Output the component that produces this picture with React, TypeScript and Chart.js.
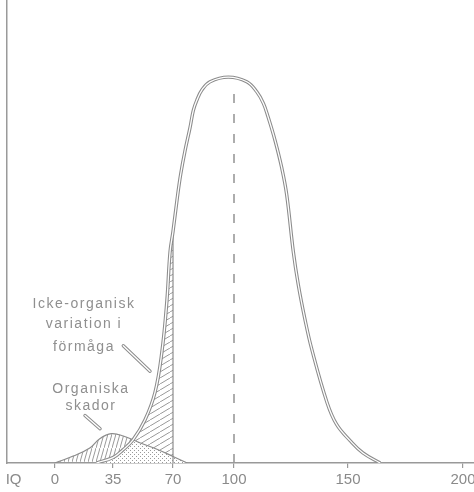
import React, { useEffect, useRef } from "react";
import { Chart, registerables } from "chart.js";

Chart.register(...registerables);

// ---- data ----
const X_TICK_VALUES = [-25, 0, 35, 70, 100, 150, 200];
const X_TICK_LABELS = ["IQ", "0", "35", "70", "100", "150", "200"];

// hand-drawn, non-uniform axis spacing of the original figure
const AXIS_KNOT_IQ = [0, 35, 70, 100, 150, 200];
const AXIS_KNOT_POS = [55, 113, 173, 234, 348, 463];
const AXIS_RANGE = [7, 474];

// main distribution (IQ, relative height)
const MAIN_IQ = [25, 35, 40.8, 46.7, 53.7, 59.5, 63.5, 66.4, 68.3, 70, 72.1, 73.8, 75.9, 78.4, 80.0, 81.7, 84.1, 88.2, 97.2, 105.6, 110.0, 112.9, 115.0, 118.0, 120.9, 123.1, 126.0, 128.2, 131.1, 134.1, 140.8, 145.0, 150.9, 156.5, 164];
const MAIN_H = [0, 0.014, 0.034, 0.06, 0.112, 0.183, 0.287, 0.418, 0.548, 0.6, 0.687, 0.749, 0.809, 0.87, 0.914, 0.94, 0.966, 0.988, 1.0, 0.988, 0.962, 0.932, 0.896, 0.836, 0.766, 0.696, 0.548, 0.462, 0.373, 0.295, 0.157, 0.1, 0.058, 0.026, 0];

// organic damage bump
const BUMP_IQ = [0, 11, 21, 27, 34, 41, 51, 61, 70, 77];
const BUMP_H = [0, 0.018, 0.039, 0.063, 0.076, 0.07, 0.052, 0.035, 0.017, 0];

const HATCH_LIMIT_IQ = 70;
const MEAN_IQ = 100;
const MEAN_LINE_TOP = 0.98;

const NOTE1_LINES = ["Icke-organisk", "variation i", "förmåga"];
const NOTE1_IQ = 17.5;
const NOTE1_H = [0.411, 0.359, 0.301];
const NOTE2_LINES = ["Organiska", "skador"];
const NOTE2_IQ = 21.7;
const NOTE2_H = [0.191, 0.147];
const ARROW1_IQ = [41, 56.6];
const ARROW1_H = [0.304, 0.238];
const ARROW2_IQ = [18.1, 27.2];
const ARROW2_H = [0.123, 0.089];

const GRAY = "#8c8c8c";
const FONT = '"Liberation Sans", Arial, Helvetica, sans-serif';

function warp(iq: number): number {
  const k = AXIS_KNOT_IQ;
  const p = AXIS_KNOT_POS;
  let i = 0;
  while (i < k.length - 2 && iq > k[i + 1]) i++;
  const t = (iq - k[i]) / (k[i + 1] - k[i]);
  return p[i] + t * (p[i + 1] - p[i]);
}

function pts(xs: number[], ys: number[]) {
  return xs.map((v, i) => ({ x: warp(v), y: ys[i] }));
}

function interp(xs: number[], ys: number[], v: number): number {
  if (v <= xs[0]) return ys[0];
  for (let i = 0; i < xs.length - 1; i++) {
    if (v <= xs[i + 1]) {
      const t = (v - xs[i]) / (xs[i + 1] - xs[i]);
      return ys[i] + t * (ys[i + 1] - ys[i]);
    }
  }
  return ys[ys.length - 1];
}

function makePattern(kind: string): CanvasPattern | string {
  const c = document.createElement("canvas");
  const g = c.getContext("2d");
  if (!g) return "rgba(0,0,0,0)";
  if (kind === "diag") {
    const w = 10, h = 6;
    c.width = w; c.height = h;
    g.strokeStyle = "#9a9a9a";
    g.lineWidth = 1;
    for (const [dx, dy] of [[-w, h], [0, 0], [w, -h]]) {
      g.beginPath();
      g.moveTo(dx, h + dy);
      g.lineTo(w + dx, dy);
      g.stroke();
    }
  } else if (kind === "steep") {
    const w = 4, h = 14;
    c.width = w; c.height = h;
    g.strokeStyle = "#9a9a9a";
    g.lineWidth = 1;
    for (const [dx, dy] of [[-w, h], [0, 0], [w, -h]]) {
      g.beginPath();
      g.moveTo(dx, h + dy);
      g.lineTo(w + dx, dy);
      g.stroke();
    }
  } else {
    c.width = 4; c.height = 4;
    g.fillStyle = "#ffffff";
    g.fillRect(0, 0, 4, 4);
    g.fillStyle = "#9a9a9a";
    g.fillRect(0, 0, 1, 1);
    g.fillRect(2, 2, 1, 1);
  }
  return g.createPattern(c, "repeat") || "rgba(0,0,0,0)";
}

const notesPlugin = {
  id: "notes",
  afterDatasetsDraw(chart: any) {
    const { ctx } = chart;
    const x = chart.scales.x;
    const y = chart.scales.y;
    ctx.save();
    const drawArrow = (xs: number[], ys: number[]) => {
      const x0 = x.getPixelForValue(warp(xs[0]));
      const y0 = y.getPixelForValue(ys[0]);
      const x1 = x.getPixelForValue(warp(xs[1]));
      const y1 = y.getPixelForValue(ys[1]);
      ctx.lineCap = "round";
      ctx.strokeStyle = GRAY;
      ctx.lineWidth = 3.4;
      ctx.beginPath(); ctx.moveTo(x0, y0); ctx.lineTo(x1, y1); ctx.stroke();
      ctx.strokeStyle = "#ffffff";
      ctx.lineWidth = 1.4;
      ctx.beginPath(); ctx.moveTo(x0, y0); ctx.lineTo(x1, y1); ctx.stroke();
    };
    drawArrow(ARROW1_IQ, ARROW1_H);
    drawArrow(ARROW2_IQ, ARROW2_H);
    ctx.font = "14px " + FONT;
    try { (ctx as any).letterSpacing = "1.5px"; } catch (e) {}
    ctx.fillStyle = "#8f8f8f";
    ctx.textAlign = "center";
    ctx.textBaseline = "middle";
    NOTE1_LINES.forEach((t, i) => {
      ctx.fillText(t, x.getPixelForValue(warp(NOTE1_IQ)), y.getPixelForValue(NOTE1_H[i]));
    });
    NOTE2_LINES.forEach((t, i) => {
      ctx.fillText(t, x.getPixelForValue(warp(NOTE2_IQ)), y.getPixelForValue(NOTE2_H[i]));
    });
    ctx.restore();
  },
};

export default function App() {
  const ref = useRef<HTMLCanvasElement | null>(null);

  useEffect(() => {
    if (!ref.current) return;
    const hatchIdx = MAIN_IQ.filter((v) => v <= HATCH_LIMIT_IQ).length;
    const hatchIQ = MAIN_IQ.slice(0, hatchIdx);
    const hatchH = MAIN_H.slice(0, hatchIdx);
    const lo = Math.max(MAIN_IQ[0], BUMP_IQ[0]);
    const hi = Math.min(MAIN_IQ[MAIN_IQ.length - 1], BUMP_IQ[BUMP_IQ.length - 1]);
    const grid = Array.from(new Set([...MAIN_IQ, ...BUMP_IQ].filter((v) => v >= lo && v <= hi))).sort((a, b) => a - b);
    const overlapH = grid.map((v) => Math.min(interp(MAIN_IQ, MAIN_H, v), interp(BUMP_IQ, BUMP_H, v)));
    const limitH = interp(MAIN_IQ, MAIN_H, HATCH_LIMIT_IQ);

    const common = { pointRadius: 0, tension: 0.4 };

    const chart = new Chart(ref.current, {
      type: "line",
      data: {
        datasets: [
          { ...common, data: pts(hatchIQ, hatchH), borderWidth: 0, fill: "origin", backgroundColor: makePattern("diag"), order: 8 },
          { ...common, data: pts(BUMP_IQ, BUMP_H), borderWidth: 0, fill: "origin", backgroundColor: makePattern("steep"), order: 7 },
          { ...common, data: pts(grid, overlapH), borderWidth: 0, fill: "origin", backgroundColor: makePattern("dots"), order: 6 },
          { ...common, data: pts(BUMP_IQ, BUMP_H), borderColor: GRAY, borderWidth: 1.2, fill: false, order: 5 },
          { pointRadius: 0, data: pts([HATCH_LIMIT_IQ, HATCH_LIMIT_IQ], [0, limitH]), borderColor: GRAY, borderWidth: 1.2, fill: false, order: 4 },
          { ...common, data: pts(MAIN_IQ, MAIN_H), borderColor: GRAY, borderWidth: 3.4, fill: false, order: 3 },
          { ...common, data: pts(MAIN_IQ, MAIN_H), borderColor: "#ffffff", borderWidth: 1.3, fill: false, order: 2 },
          { pointRadius: 0, data: pts([MEAN_IQ, MEAN_IQ], [0, MEAN_LINE_TOP]), borderColor: "#999999", borderWidth: 1.6, borderDash: [9, 11], fill: false, order: 1 },
        ],
      },
      options: {
        animation: false,
        responsive: true,
        maintainAspectRatio: false,
        layout: { padding: { left: 7, right: 0, top: 0, bottom: 0 } },
        plugins: { legend: { display: false }, tooltip: { enabled: false } },
        scales: {
          x: {
            type: "linear",
            min: AXIS_RANGE[0],
            max: AXIS_RANGE[1],
            afterBuildTicks: (s: any) => {
              s.ticks = X_TICK_VALUES.map((v) => ({ value: warp(v) }));
            },
            afterFit: (s: any) => {
              s.paddingLeft = 0;
              s.paddingRight = 0;
            },
            ticks: {
              autoSkip: false,
              maxRotation: 0,
              padding: 3,
              color: "#8a8a8a",
              font: { family: FONT, size: 15 },
              callback: (_v: any, i: number) => X_TICK_LABELS[i],
            },
            grid: {
              drawOnChartArea: false,
              drawTicks: true,
              tickLength: 5,
              lineWidth: 1.2,
              color: (c: any) => (c.index === 0 ? "rgba(0,0,0,0)" : "#999999"),
            },
            border: { display: true, color: "#999999", width: 1.5, dash: [40, 4] },
          },
          y: {
            type: "linear",
            min: 0,
            max: 1.2,
            ticks: { display: false },
            grid: { display: false, drawTicks: false },
            border: { display: true, color: "#9a9a9a", width: 1.5, dash: [16, 3] },
          },
        },
      },
      plugins: [notesPlugin],
    });
    return () => chart.destroy();
  }, []);

  return (
    <div style={{ position: "fixed", left: 0, top: 0, width: 474, height: 492, background: "#ffffff" }}>
      <canvas ref={ref} />
    </div>
  );
}
